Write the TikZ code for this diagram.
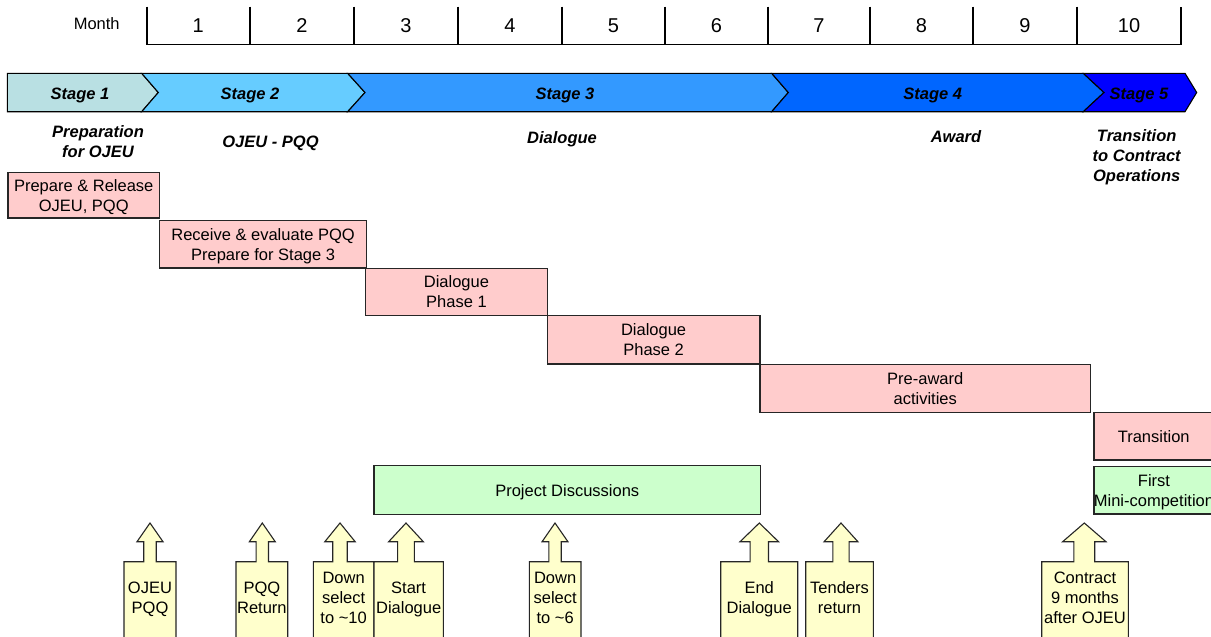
\documentclass[tikz,border=0pt]{standalone}
\usepackage{fontspec}
\setmainfont{Liberation Sans}
\definecolor{stageA}{HTML}{B9E0E3}
\definecolor{stageB}{HTML}{66CCFF}
\definecolor{stageC}{HTML}{3399FF}
\definecolor{stageD}{HTML}{0066FF}
\definecolor{stageE}{HTML}{0000FF}
\definecolor{taskpink}{HTML}{FFCCCC}
\definecolor{discgreen}{HTML}{CCFFCC}
\definecolor{noteyellow}{HTML}{FFFFCC}
\definecolor{edge}{HTML}{262626}

% up-arrow callout: name, left, right, tip x, text
\newcommand\upcallout[5]{%
  \pgfmathsetmacro\cwid{#3-#2}%
  \pgfmathsetmacro\cshaft{0.12*\cwid}%
  \pgfmathsetmacro\chead{0.25*\cwid}%
  \draw[callshape] (#2,660) -- (#2,561.7) -- ({#4-\cshaft},561.7) -- ({#4-\cshaft},541.7)
    -- ({#4-\chead},541.7) -- (#4,523) -- ({#4+\chead},541.7) -- ({#4+\cshaft},541.7)
    -- ({#4+\cshaft},561.7) -- (#3,561.7) -- (#3,660) -- cycle;
  \node[calltext] (#1) at ({(#2+#3)/2},598) {#5};
}

\begin{document}
\begin{tikzpicture}[x=1pt,y=-1pt,
  txt/.style={font=\fontsize{16.5}{20}\selectfont, align=center, inner sep=0pt, text depth=0pt},
  bold/.style={font=\fontsize{16.5}{20}\selectfont\bfseries\itshape, align=center, inner sep=0pt, text depth=0pt},
  monthnum/.style={font=\fontsize{20}{24}\selectfont, inner sep=0pt},
  stageshape/.style={draw=black, line width=1.1pt, line join=miter},
  task/.style={txt, draw=edge, line width=1.2pt, fill=taskpink, anchor=north west},
  disc/.style={txt, draw=edge, line width=1.2pt, fill=discgreen, anchor=north west},
  callshape/.style={draw=edge, line width=1.1pt, fill=noteyellow, line join=miter},
  calltext/.style={txt}
]
\clip (0,0) rectangle (1211,637);
\fill[white] (0,0) rectangle (1211,637);

% month scale
\node[txt] (monthlbl) at (96.7,24) {Month};
\draw[line width=1.6pt] (146.7,6.7) -- (146.7,44.3) -- (1181,44.3) -- (1181,6.7);
\foreach \t in {250,354,458,562,665,768,870,973,1077}
  \draw[line width=1.6pt] (\t,6.7) -- (\t,44.3);
\foreach \n/\c in {1/198.3,2/302,3/406,4/510,5/613.5,6/716.5,7/819,8/921.5,9/1025,10/1129}
  \node[monthnum] (m\n) at (\c,26) {\n};

% stage chevrons
\draw[stageshape, fill=stageA] (7.3,73.3) -- (141.7,73.3) -- (158.3,92.5) -- (141.7,111.7) -- (7.3,111.7) -- cycle;
\draw[stageshape, fill=stageB] (141.7,73.3) -- (347.7,73.3) -- (365,92.5) -- (347.7,111.7) -- (141.7,111.7) -- (158.3,92.5) -- cycle;
\draw[stageshape, fill=stageC] (347.7,73.3) -- (771.7,73.3) -- (788.3,92.5) -- (771.7,111.7) -- (347.7,111.7) -- (365,92.5) -- cycle;
\draw[stageshape, fill=stageD] (771.7,73.3) -- (1083.3,73.3) -- (1104,92.5) -- (1083.3,111.7) -- (771.7,111.7) -- (788.3,92.5) -- cycle;
\draw[stageshape, fill=stageE] (1083.3,73.3) -- (1185,73.3) -- (1196.7,92.5) -- (1185,111.7) -- (1083.3,111.7) -- (1104,92.5) -- cycle;
\node[bold] (s1) at (80,93.5) {Stage 1};
\node[bold] (s2) at (250,93.5) {Stage 2};
\node[bold] (s3) at (565,93.5) {Stage 3};
\node[bold] (s4) at (932.7,93.5) {Stage 4};
\node[bold] (s5) at (1139,93.5) {Stage 5};

% phase titles
\node[bold] (p1) at (98,141.7) {Preparation\\for OJEU};
\node[bold] (p2) at (270.5,141.7) {OJEU - PQQ};
\node[bold] (p3) at (562,137.5) {Dialogue};
\node[bold] (p4) at (956,136.7) {Award};
\node[bold] (p5) at (1136.7,155.7) {Transition\\to Contract\\Operations};

% activity bars
\node[task, minimum width=151.7pt, minimum height=45.6pt] (prep) at (7.3,171.7) {Prepare \& Release\\OJEU, PQQ};
\node[task, minimum width=207pt, minimum height=47.3pt] (recv) at (159,220) {Receive \& evaluate PQQ\\Prepare for Stage 3};
\node[task, minimum width=181.7pt, minimum height=47.3pt] (dp1) at (365,267.7) {Dialogue\\Phase 1};
\node[task, minimum width=212.6pt, minimum height=48.3pt] (dp2) at (546.7,315) {Dialogue\\Phase 2};
\node[task, minimum width=330.7pt, minimum height=47.7pt] (preaward) at (759.3,364) {Pre-award\\activities};
\node[task, minimum width=119.7pt, minimum height=47.6pt] (trans) at (1093.3,411.7) {Transition};
\node[disc, minimum width=119.7pt, minimum height=47.6pt] (mini) at (1093.3,465.7) {First\\Mini-competition};
\node[disc, minimum width=386.7pt, minimum height=49pt] (projdisc) at (373.3,465) {Project Discussions};

% milestone callouts
\upcallout{ojeu}{124}{176}{150}{OJEU\\PQQ}
\upcallout{pqqret}{236}{287.7}{262.3}{PQQ\\Return}
\upcallout{down10}{313.3}{374}{340}{Down\\select\\to \textasciitilde10}
\upcallout{startdlg}{374}{443.3}{406}{Start\\Dialogue}
\upcallout{down6}{529.3}{581}{555}{Down\\select\\to \textasciitilde6}
\upcallout{enddlg}{720.7}{797.7}{759.3}{End\\Dialogue}
\upcallout{tenders}{805.7}{873.3}{841}{Tenders\\return}
\upcallout{contract}{1041.7}{1128.3}{1084.3}{Contract\\9 months\\after OJEU}
\end{tikzpicture}
\end{document}
